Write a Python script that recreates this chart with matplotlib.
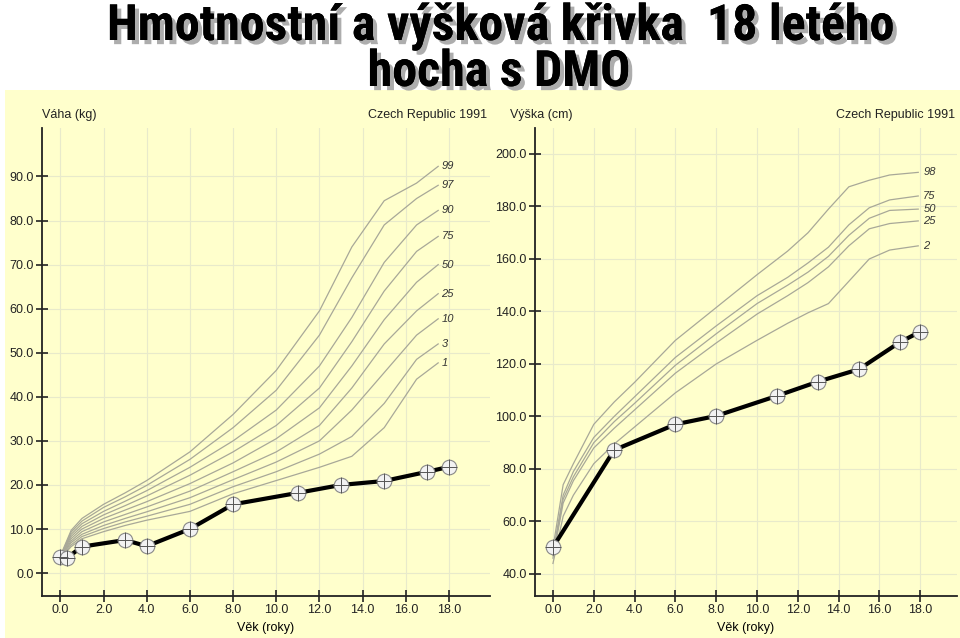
import matplotlib
matplotlib.use("Agg")
import matplotlib.pyplot as plt
import matplotlib.patheffects as pe
from matplotlib import font_manager
from matplotlib.patches import Rectangle
import numpy as np

# ---- data -------------------------------------------------------------
# weight percentiles (kg)
w_ages = [0, 0.5, 1, 2, 3, 4, 6, 8, 10, 12, 13.5, 15, 16.5, 17.5]
w_p1 = [3.3, 6.0, 7.8, 9.4, 10.8, 12.0, 14.0, 18.0, 21.0, 24.0, 26.5, 33.0, 44.0, 47.7]
w_p3 = [3.4, 6.4, 8.3, 10.1, 11.6, 12.9, 15.6, 19.6, 23.0, 27.0, 31.0, 38.5, 48.5, 52.0]
w_p10 = [3.5, 6.9, 8.8, 10.8, 12.4, 13.9, 17.1, 21.2, 25.2, 30.0, 37.0, 45.5, 54.0, 57.7]
w_p25 = [3.5, 7.3, 9.4, 11.6, 13.3, 15.0, 18.6, 23.0, 27.5, 33.5, 42.0, 52.0, 59.5, 63.4]
w_p50 = [3.6, 7.8, 10.0, 12.4, 14.3, 16.2, 20.3, 25.0, 30.5, 37.5, 47.0, 57.5, 66.0, 70.0]
w_p75 = [3.7, 8.3, 10.6, 13.2, 15.3, 17.5, 22.2, 27.5, 33.5, 42.0, 52.5, 64.0, 73.0, 76.4]
w_p90 = [3.7, 8.8, 11.2, 14.0, 16.3, 18.7, 24.0, 30.0, 37.0, 47.0, 58.0, 70.5, 79.0, 82.3]
w_p97 = [3.8, 9.3, 11.8, 14.9, 17.3, 19.9, 25.8, 33.0, 41.5, 54.0, 67.0, 79.0, 85.0, 88.0]
w_p99 = [3.9, 9.7, 12.4, 15.6, 18.2, 21.0, 27.5, 36.0, 46.0, 59.5, 74.0, 84.5, 88.5, 92.3]
w_labels = ["1", "3", "10", "25", "50", "75", "90", "97", "99"]

# height percentiles (cm)
h_ages = [0, 0.5, 1, 2, 3, 4, 6, 8, 10, 11.5, 12.5, 13.5, 14.5, 15.5, 16.5, 17.9]
h_p2 = [44, 62, 70, 82, 89.5, 96, 109, 120, 129, 135.5, 139.5, 143, 151.5, 160, 163.4, 165]
h_p25 = [46, 67, 75.5, 88, 95.5, 102.5, 116.5, 128, 139, 146, 151, 157, 165, 171.5, 173.5, 174.5]
h_p50 = [47, 68.5, 77, 90, 98, 105, 119.5, 131.5, 143, 150, 155, 161, 169, 175.5, 178.5, 179]
h_p75 = [48, 70, 79, 92, 100, 107.5, 122.5, 134.5, 146, 153, 158.5, 164.5, 173, 179.5, 182.5, 184]
h_p98 = [50, 74, 82, 97, 105.5, 113, 129, 141.5, 154, 163, 170, 179, 187.5, 190, 192, 193]
h_labels = ["2", "25", "50", "75", "98"]

# patient
pw_age = [0, 0.3, 1, 3, 4, 6, 8, 11, 13, 15, 17, 18]
pw_kg = [3.7, 3.4, 6.0, 7.5, 6.1, 10.0, 15.6, 18.2, 20.0, 20.9, 23.0, 24.1]
ph_age = [0, 3, 6, 8, 11, 13, 15, 17, 18]
ph_cm = [50.2, 87.2, 97.0, 100.2, 107.9, 113.3, 118.0, 128.3, 132.3]

w_ticks = np.arange(0, 100, 10)
h_ticks = np.arange(40, 201, 20)
x_ticks = np.arange(0, 19, 2)

# ---- fonts ------------------------------------------------------------
def have(name):
    try:
        font_manager.findfont(name, fallback_to_default=False)
        return True
    except Exception:
        return False

base_font = "Liberation Sans" if have("Liberation Sans") else "DejaVu Sans"
title_font, title_size = base_font, 30
for cand in ["Liberation Sans Narrow", "Arial Narrow", "Roboto Condensed", "DejaVu Sans Condensed"]:
    if have(cand):
        title_font, title_size = cand, 36
        break
plt.rcParams["font.family"] = [base_font, "DejaVu Sans"]

bg = "#FFFFCC"
grid_c = "#E8EACB"
curve_c = "#A8A898"

fig = plt.figure(figsize=(9.6, 6.38), dpi=100)
fig.patches.append(Rectangle((5 / 960, 0), 1, 1 - 90 / 638, transform=fig.transFigure,
                             facecolor=bg, edgecolor="none", zorder=-10))

shadow = [pe.withSimplePatchShadow(offset=(3, -3), shadow_rgbFace="#999999", alpha=0.8), pe.Normal()]
fig.text(501 / 960, 1 - 40 / 638, "Hmotnostní a výšková křivka  18 letého", ha="center", va="baseline",
         fontsize=title_size, fontweight="bold", family=[title_font, "DejaVu Sans"], path_effects=shadow)
fig.text(499 / 960, 1 - 86 / 638, "hocha s DMO", ha="center", va="baseline",
         fontsize=title_size, fontweight="bold", family=[title_font, "DejaVu Sans"], path_effects=shadow)


def setup(ax, xlim, ylim, yticks):
    ax.set_facecolor("none")
    ax.set_xlim(*xlim)
    ax.set_ylim(*ylim)
    ax.set_xticks(x_ticks)
    ax.set_xticklabels([f"{v:.1f}" for v in x_ticks])
    ax.set_yticks(yticks)
    ax.set_yticklabels([f"{v:.1f}" for v in yticks])
    for s in ["top", "right"]:
        ax.spines[s].set_visible(False)
    for s in ["left", "bottom"]:
        ax.spines[s].set_linewidth(1.3)
        ax.spines[s].set_color("#222222")
    ax.tick_params(direction="inout", length=8, width=1.2, labelsize=9, colors="#222222", pad=2)
    ax.grid(True, color=grid_c, linewidth=0.8)
    ax.set_axisbelow(True)
    ax.set_xlabel("Věk (roky)", fontsize=9, labelpad=4)


def patient(ax, xs, ys):
    ax.plot(xs, ys, color="black", lw=3, zorder=4)
    ax.plot(xs, ys, ls="none", marker="o", ms=10.5, mfc="#F2F2F2", mec="#888888", mew=0.8, zorder=5)
    ax.plot(xs, ys, ls="none", marker="+", ms=12, mec="#555555", mew=0.7, zorder=6)


# ---- weight -----------------------------------------------------------
axw = fig.add_axes([42 / 960, 1 - 596 / 638, 448 / 960, 468 / 638])
setup(axw, (-0.85, 19.9), (-5.2, 101.0), w_ticks)
for lab, vals in zip(w_labels, [w_p1, w_p3, w_p10, w_p25, w_p50, w_p75, w_p90, w_p97, w_p99]):
    axw.plot(w_ages, vals, color=curve_c, lw=0.9, zorder=2)
    axw.text(w_ages[-1] + 0.15, vals[-1], lab, fontsize=8, style="italic", color="#333333",
             ha="left", va="center")
patient(axw, pw_age, pw_kg)

# ---- height -----------------------------------------------------------
axh = fig.add_axes([535 / 960, 1 - 596 / 638, 422 / 960, 468 / 638])
setup(axh, (-0.88, 19.8), (31.6, 209.9), h_ticks)
for lab, vals in zip(h_labels, [h_p2, h_p25, h_p50, h_p75, h_p98]):
    axh.plot(h_ages, vals, color=curve_c, lw=0.9, zorder=2)
    axh.text(h_ages[-1] + 0.25, vals[-1], lab, fontsize=8, style="italic", color="#333333",
             ha="left", va="center")
patient(axh, ph_age, ph_cm)

# ---- headers ----------------------------------------------------------
hy = 1 - 115 / 638
fig.text(42 / 960, hy, "Váha (kg)", fontsize=9, ha="left", va="center", color="#222222")
fig.text(487 / 960, hy, "Czech Republic 1991", fontsize=9, ha="right", va="center", color="#222222")
fig.text(510 / 960, hy, "Výška (cm)", fontsize=9, ha="left", va="center", color="#222222")
fig.text(955 / 960, hy, "Czech Republic 1991", fontsize=9, ha="right", va="center", color="#222222")

fig.savefig("out.png", dpi=100)
